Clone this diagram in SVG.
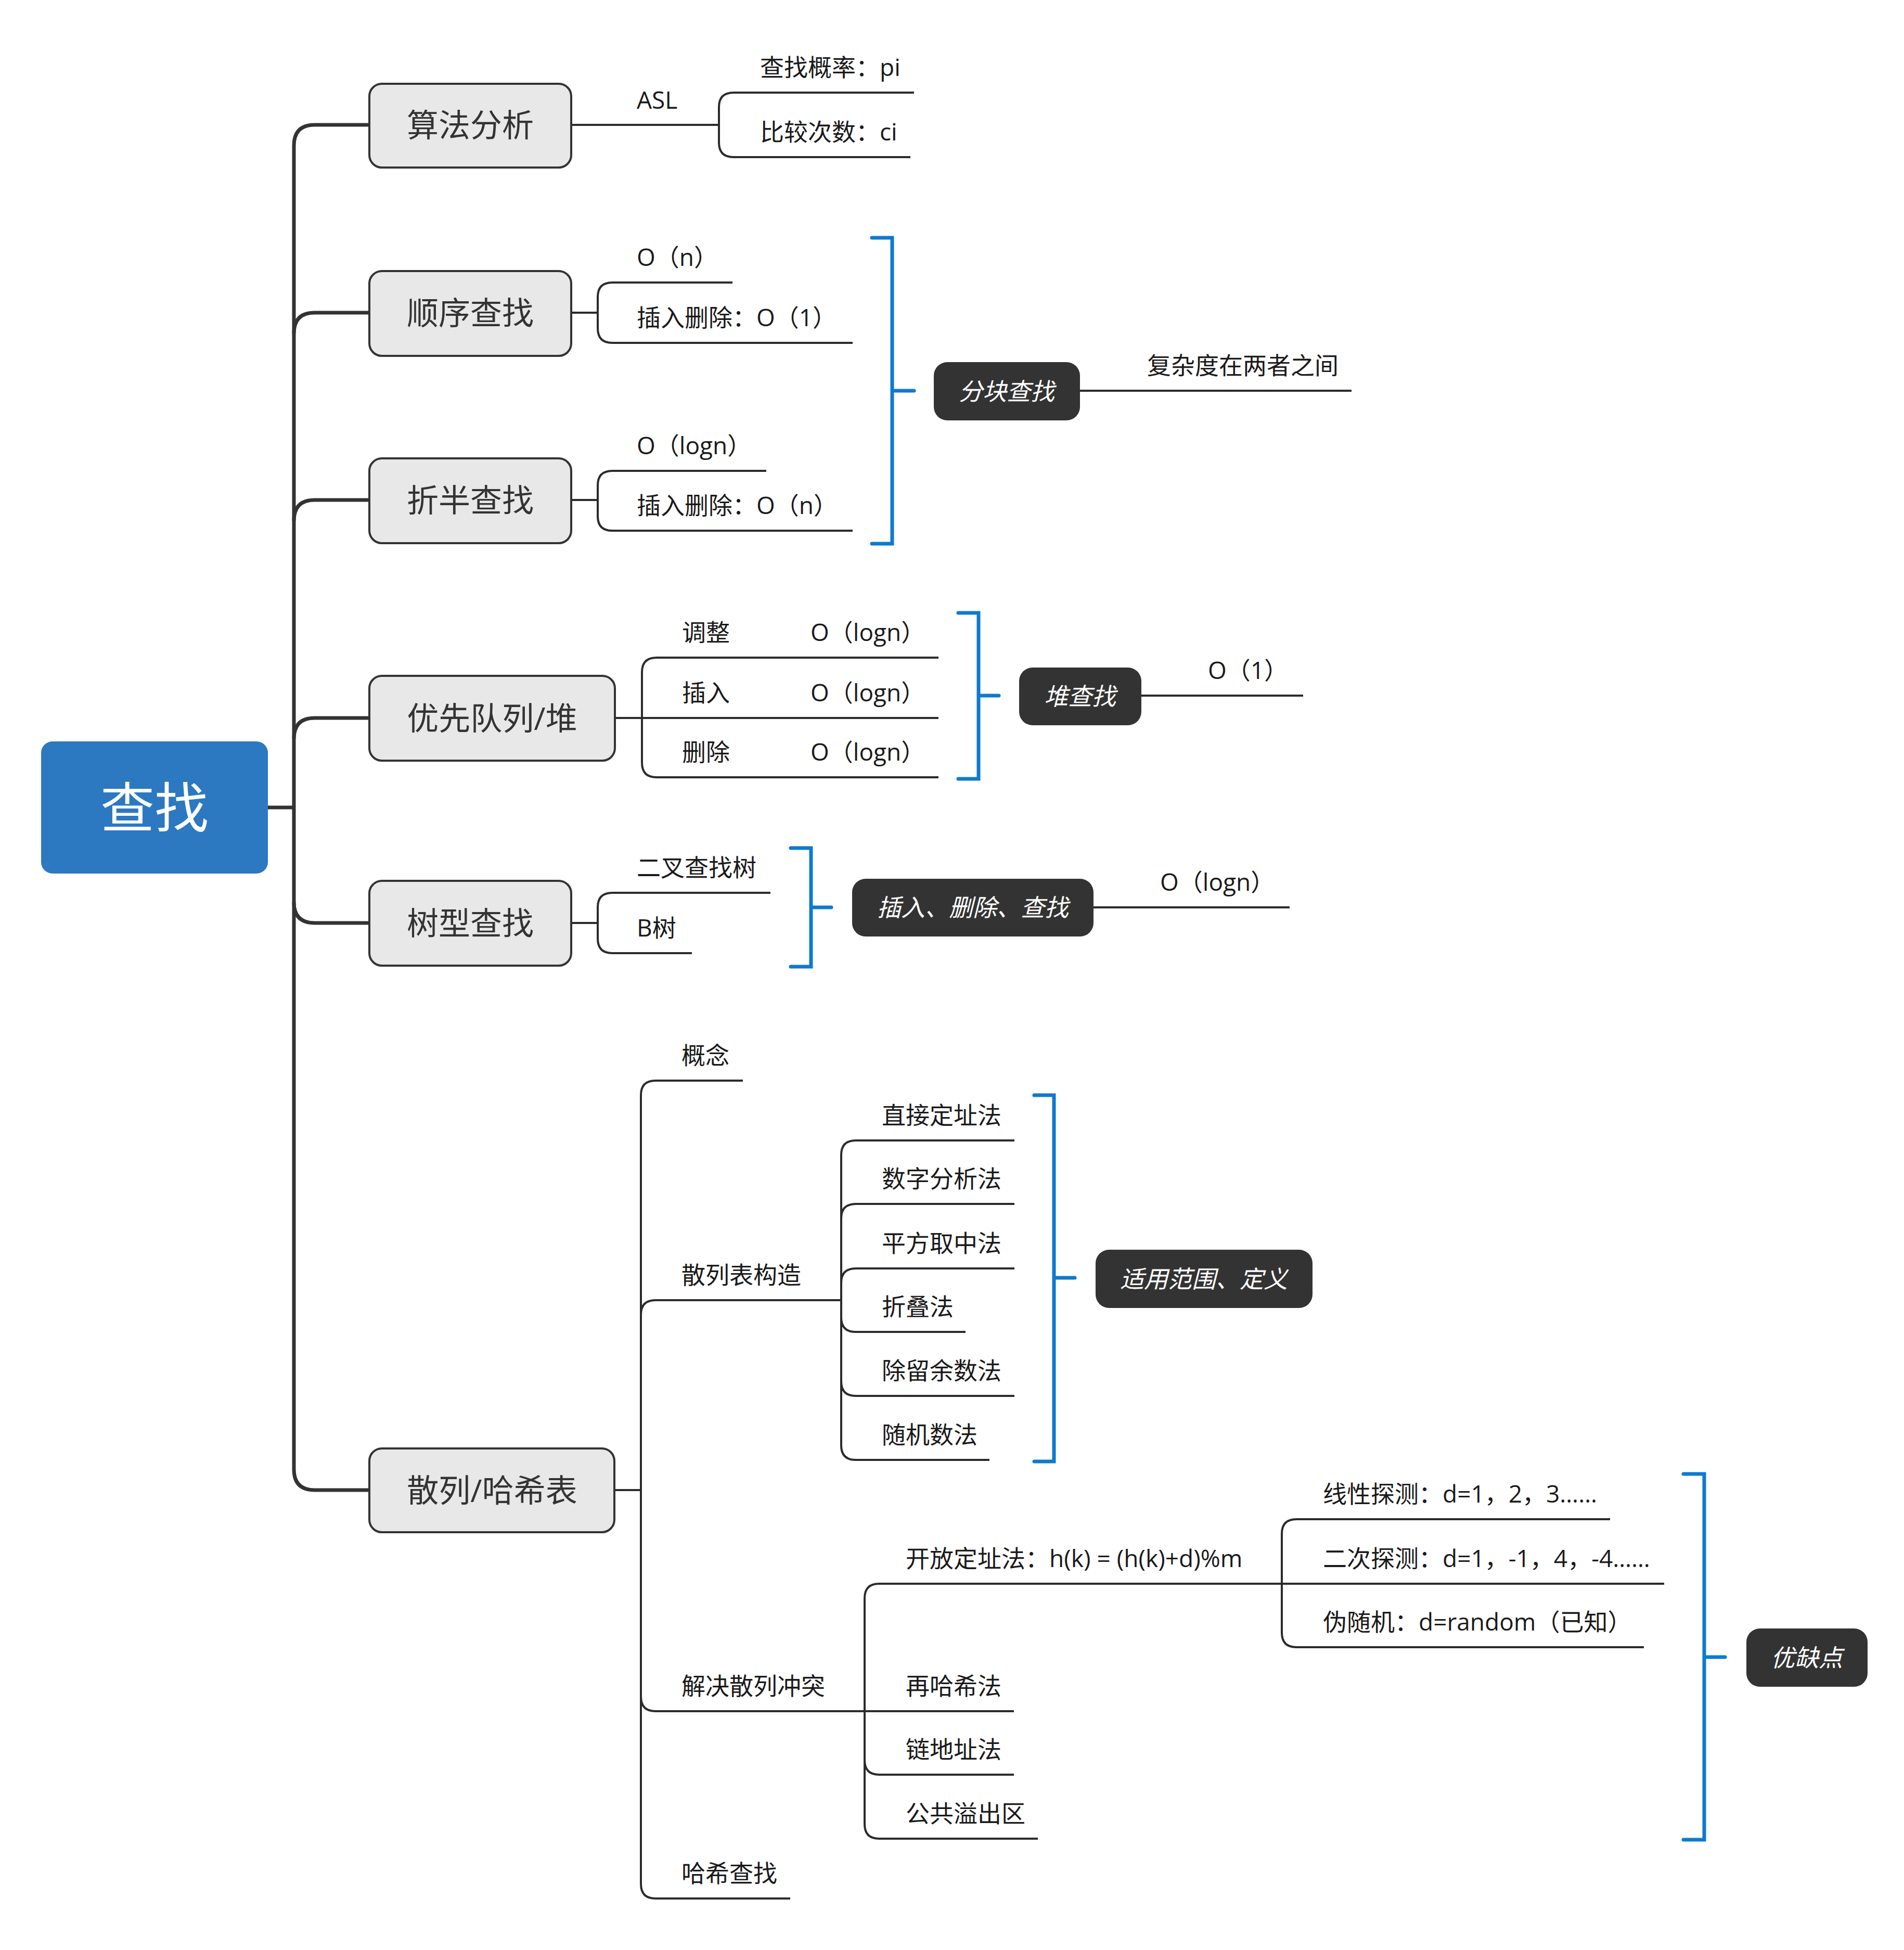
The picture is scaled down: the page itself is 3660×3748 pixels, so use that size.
<svg xmlns="http://www.w3.org/2000/svg" width="3660" height="3748" viewBox="0 0 3660 3748">
  <style>
    text { font-family: "Open Sans", "Noto Sans CJK SC", sans-serif; }
    .t2 { font-size: 46px; fill: #1a1a1a; }
    .t1 { font-size: 61px; fill: #333333; text-anchor: middle; }
    .tr { font-size: 104px; fill: #ffffff; text-anchor: middle; }
    .td { font-size: 46px; fill: #ffffff; font-style: italic; text-anchor: middle; }
    .b1 { fill: #e8e8e8; stroke: #333333; stroke-width: 4; }
    .bd { fill: #333333; }
    .br0 { fill: #2c78c1; }
    .c1 { fill: none; stroke: #333333; stroke-width: 7; }
    .c2 { fill: none; stroke: #2b2b2b; stroke-width: 4; }
    .brk { fill: none; stroke: #0e7acf; stroke-width: 7; stroke-linecap: round; stroke-linejoin: miter; }
  </style>

  <!-- connectors -->
  <g id="connectors">
    <!-- trunk from the root to the main topics -->
    <path class="c1" d="M515,1552 H565"/>
    <path class="c1" d="M565,280 V2824"/>
    <path class="c1" d="M565,280 Q565,240 605,240 H710"/>
    <path class="c1" d="M565,641 Q565,601 605,601 H710"/>
    <path class="c1" d="M565,1001 Q565,961 605,961 H710"/>
    <path class="c1" d="M565,1420 Q565,1380 605,1380 H710"/>
    <path class="c1" d="M565,1734 Q565,1774 605,1774 H710"/>
    <path class="c1" d="M565,2824 Q565,2864 605,2864 H710"/>

    <!-- 算法分析 -->
    <path class="c2" d="M1098,240 H1382"/>
    <path class="c2" d="M1757,178 H1410 Q1382,178 1382,206 V274 Q1382,302 1410,302 H1750"/>

    <!-- 顺序查找 -->
    <path class="c2" d="M1098,601 H1149"/>
    <path class="c2" d="M1408,543 H1177 Q1149,543 1149,571 V631 Q1149,659 1177,659 H1639"/>

    <!-- 折半查找 -->
    <path class="c2" d="M1098,961 H1149"/>
    <path class="c2" d="M1473,905 H1177 Q1149,905 1149,933 V992 Q1149,1020 1177,1020 H1639"/>

    <!-- 优先队列/堆 -->
    <path class="c2" d="M1182,1380 H1804"/>
    <path class="c2" d="M1804,1264 H1262 Q1234,1264 1234,1292 V1466 Q1234,1494 1262,1494 H1804"/>

    <!-- 树型查找 -->
    <path class="c2" d="M1098,1774 H1149"/>
    <path class="c2" d="M1481,1716 H1177 Q1149,1716 1149,1744 V1804 Q1149,1832 1177,1832 H1330"/>

    <!-- 散列/哈希表 -->
    <path class="c2" d="M1181,2864 H1232"/>
    <path class="c2" d="M1428,2077 H1260 Q1232,2077 1232,2105 V3621 Q1232,3649 1260,3649 H1519"/>
    <path class="c2" d="M1232,2527 Q1232,2499 1260,2499 H1617"/>
    <path class="c2" d="M1232,3261 Q1232,3289 1260,3289 H1662"/>

    <!-- 散列表构造 children -->
    <path class="c2" d="M1950,2192 H1645 Q1617,2192 1617,2220 V2778 Q1617,2806 1645,2806 H1902"/>
    <path class="c2" d="M1617,2342 Q1617,2314 1645,2314 H1950"/>
    <path class="c2" d="M1617,2466 Q1617,2438 1645,2438 H1950"/>
    <path class="c2" d="M1617,2532 Q1617,2560 1645,2560 H1856"/>
    <path class="c2" d="M1617,2655 Q1617,2683 1645,2683 H1950"/>

    <!-- 解决散列冲突 children -->
    <path class="c2" d="M2464,3044 H1690 Q1662,3044 1662,3072 V3506 Q1662,3534 1690,3534 H1995"/>
    <path class="c2" d="M1662,3289 H1949"/>
    <path class="c2" d="M1662,3383 Q1662,3411 1690,3411 H1949"/>

    <!-- 开放定址法 children -->
    <path class="c2" d="M3095,2920 H2492 Q2464,2920 2464,2948 V3138 Q2464,3166 2492,3166 H3160"/>
    <path class="c2" d="M2464,3044 H3199"/>

    <!-- summary lines leaving the dark boxes -->
    <path class="c2" d="M2076,751 H2598"/>
    <path class="c2" d="M2194,1337 H2505"/>
    <path class="c2" d="M2102,1744 H2479"/>

    <!-- summary brackets -->
    <path class="brk" d="M1676,457 H1715 V1045 H1676 M1715,751 H1757"/>
    <path class="brk" d="M1842,1178 H1881 V1497 H1842 M1881,1337 H1920"/>
    <path class="brk" d="M1520,1630 H1559 V1858 H1520 M1559,1744 H1598"/>
    <path class="brk" d="M1988,2105 H2026 V2809 H1988 M2026,2456 H2066"/>
    <path class="brk" d="M3236,2833 H3276 V3536 H3236 M3276,3185 H3316"/>
  </g>

  <!-- root -->
  <g id="root">
    <rect class="br0" x="79" y="1425" width="436" height="254" rx="22"/>
    <text class="tr" x="297" y="1591">查找</text>
  </g>

  <!-- main topics -->
  <g id="n-analysis">
    <rect class="b1" x="710" y="161" width="388" height="161" rx="24"/>
    <text class="t1" x="904" y="263">算法分析</text>
  </g>
  <g id="n-sequential">
    <rect class="b1" x="710" y="521" width="388" height="163" rx="24"/>
    <text class="t1" x="904" y="624">顺序查找</text>
  </g>
  <g id="n-binary">
    <rect class="b1" x="710" y="881" width="388" height="163" rx="24"/>
    <text class="t1" x="904" y="984">折半查找</text>
  </g>
  <g id="n-heap">
    <rect class="b1" x="710" y="1299" width="472" height="163" rx="24"/>
    <text class="t1" x="946" y="1403">优先队列/堆</text>
  </g>
  <g id="n-tree">
    <rect class="b1" x="710" y="1693" width="388" height="163" rx="24"/>
    <text class="t1" x="904" y="1797">树型查找</text>
  </g>
  <g id="n-hash">
    <rect class="b1" x="710" y="2784" width="471" height="161" rx="24"/>
    <text class="t1" x="946" y="2887">散列/哈希表</text>
  </g>

  <!-- 算法分析 details -->
  <g id="n-asl"><text class="t2" x="1224" y="209">ASL</text></g>
  <g id="n-pi"><text class="t2" x="1461" y="146">查找概率：pi</text></g>
  <g id="n-ci"><text class="t2" x="1461" y="270">比较次数：ci</text></g>

  <!-- 顺序查找 details -->
  <g id="n-seq-on"><text class="t2" x="1224" y="511">O（n）</text></g>
  <g id="n-seq-ins"><text class="t2" x="1224" y="627">插入删除：O（1）</text></g>

  <!-- 折半查找 details -->
  <g id="n-bin-log"><text class="t2" x="1224" y="873">O（logn）</text></g>
  <g id="n-bin-ins"><text class="t2" x="1224" y="988">插入删除：O（n）</text></g>

  <!-- 分块查找 summary -->
  <g id="n-block">
    <rect class="bd" x="1795" y="696" width="281" height="112" rx="26"/>
    <text class="td" x="1935" y="769">分块查找</text>
  </g>
  <g id="n-block-note"><text class="t2" x="2205" y="719">复杂度在两者之间</text></g>

  <!-- 优先队列/堆 details -->
  <g id="n-heap-adj"><text class="t2" y="1232"><tspan x="1311">调整</tspan><tspan x="1558">O（logn）</tspan></text></g>
  <g id="n-heap-ins"><text class="t2" y="1348"><tspan x="1311">插入</tspan><tspan x="1558">O（logn）</tspan></text></g>
  <g id="n-heap-del"><text class="t2" y="1462"><tspan x="1311">删除</tspan><tspan x="1558">O（logn）</tspan></text></g>

  <g id="n-heapsearch">
    <rect class="bd" x="1959" y="1283" width="235" height="111" rx="26"/>
    <text class="td" x="2076" y="1355">堆查找</text>
  </g>
  <g id="n-heapsearch-note"><text class="t2" x="2322" y="1305">O（1）</text></g>

  <!-- 树型查找 details -->
  <g id="n-bst"><text class="t2" x="1224" y="1684">二叉查找树</text></g>
  <g id="n-btree"><text class="t2" x="1224" y="1800">B树</text></g>
  <g id="n-tree-ops">
    <rect class="bd" x="1638" y="1689" width="464" height="111" rx="26"/>
    <text class="td" x="1870" y="1761">插入、删除、查找</text>
  </g>
  <g id="n-tree-ops-note"><text class="t2" x="2230" y="1712">O（logn）</text></g>

  <!-- 散列/哈希表 details -->
  <g id="n-concept"><text class="t2" x="1310" y="2045">概念</text></g>
  <g id="n-construct"><text class="t2" x="1310" y="2467">散列表构造</text></g>
  <g id="n-collision"><text class="t2" x="1310" y="3257">解决散列冲突</text></g>
  <g id="n-hashsearch"><text class="t2" x="1310" y="3617">哈希查找</text></g>

  <g id="n-c1"><text class="t2" x="1695" y="2160">直接定址法</text></g>
  <g id="n-c2"><text class="t2" x="1695" y="2282">数字分析法</text></g>
  <g id="n-c3"><text class="t2" x="1695" y="2406">平方取中法</text></g>
  <g id="n-c4"><text class="t2" x="1695" y="2528">折叠法</text></g>
  <g id="n-c5"><text class="t2" x="1695" y="2651">除留余数法</text></g>
  <g id="n-c6"><text class="t2" x="1695" y="2774">随机数法</text></g>
  <g id="n-scope">
    <rect class="bd" x="2106" y="2402" width="417" height="112" rx="26"/>
    <text class="td" x="2314" y="2475">适用范围、定义</text>
  </g>

  <g id="n-open"><text class="t2" x="1741" y="3012">开放定址法：h(k) = (h(k)+d)%m</text></g>
  <g id="n-rehash"><text class="t2" x="1741" y="3257">再哈希法</text></g>
  <g id="n-chain"><text class="t2" x="1741" y="3379">链地址法</text></g>
  <g id="n-overflow"><text class="t2" x="1741" y="3502">公共溢出区</text></g>

  <g id="n-linear"><text class="t2" x="2543" y="2888">线性探测：d=1，2，3……</text></g>
  <g id="n-quad"><text class="t2" x="2543" y="3012">二次探测：d=1，-1，4，-4……</text></g>
  <g id="n-random"><text class="t2" x="2543" y="3134">伪随机：d=random（已知）</text></g>
  <g id="n-proscons">
    <rect class="bd" x="3357" y="3130" width="233" height="112" rx="26"/>
    <text class="td" x="3473" y="3203">优缺点</text>
  </g>
</svg>
